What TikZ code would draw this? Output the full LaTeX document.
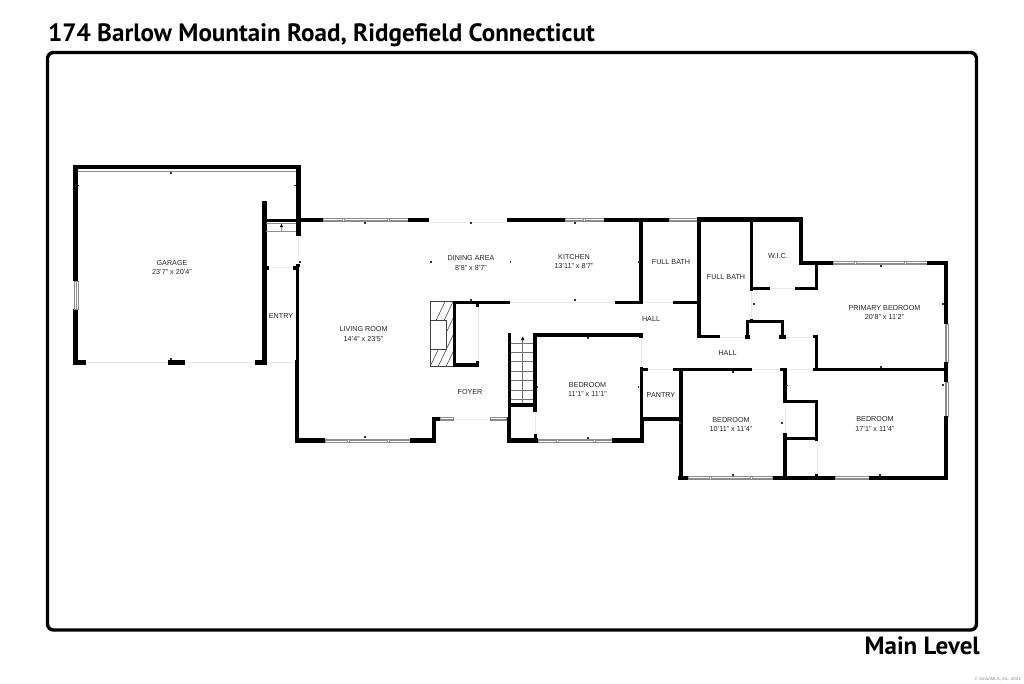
\documentclass[tikz,border=0pt]{standalone}
\usepackage{fontspec}
\setmainfont{Liberation Sans}
\newfontfamily\titlefont{PT Sans}
\definecolor{lbl}{gray}{0.15}
\definecolor{wingray}{gray}{0.55}
\definecolor{doorgray}{gray}{0.91}
\newcommand{\WW}[4]{\fill[wallfill] (#1,#2) rectangle (#3,#4);}
\newcommand{\HW}[4]{% horizontal window: x1 x2 y1 y2
  \draw[winframe] (#1,#3) rectangle (#2,#4);
  \draw[winframe] (#1,{(#3+#4)/2}) -- (#2,{(#3+#4)/2});}
\newcommand{\VW}[4]{% vertical window: x1 x2 y1 y2
  \draw[winframe] (#1,#3) rectangle (#2,#4);
  \draw[winframe] ({(#1+#2)/2},#3) -- ({(#1+#2)/2},#4);}
\newcommand{\MU}[3]{\draw[winframe] (#1-1,#2) rectangle (#1+1,#3);}
\newcommand{\DR}[4]{\draw[doorline] (#1,#2) -- (#3,#4);}
\tikzset{
  wallfill/.style={fill=black},
  winframe/.style={draw=wingray,line width=0.5pt,fill=white},
  doorline/.style={draw=doorgray,line width=1pt},
  roomlabel/.style={font=\fontsize{7.2}{9.2}\selectfont,text=lbl,align=center,inner sep=0pt},
  tick/.style={fill=black!80},
  treadline/.style={draw=black!55,line width=0.5pt},
  hatchline/.style={draw=black!75,line width=0.55pt},
}
\begin{document}
\begin{tikzpicture}[x=1pt,y=-1pt]
\useasboundingbox (0,0) rectangle (1024,683);
\fill[white] (0,0) rectangle (1024,683);
% frame
\draw[line width=3.4pt,rounded corners=6pt] (47.5,52.5) rectangle (976.5,630);
\node[anchor=base west,inner sep=0pt,font=\titlefont\bfseries\fontsize{25.1}{28}\selectfont] (title) at (48,41) {174 Barlow Mountain Road, Ridgefield Connecticut};
\node[anchor=base east,inner sep=0pt,font=\titlefont\bfseries\fontsize{25}{28}\selectfont] (level) at (980,654) {Main Level};
\node[anchor=base east,inner sep=0pt,text=black!45,font=\fontsize{4.4}{5}\selectfont] (copy) at (1021,680) {© SmartMLS, Inc. 2024};

% door openings (faint)
\DR{86}{362.5}{168}{362.5}
\DR{185}{362.5}{255}{362.5}
\DR{267}{362.5}{294}{362.5}
\DR{298}{236}{298}{265}
\DR{270}{267}{294}{267}
\DR{429}{222}{507}{222}
\DR{510}{302.5}{615}{302.5}
\DR{643}{302.5}{673}{302.5}
\DR{478}{305}{478}{362}
\DR{641}{338}{641}{367}
\DR{648}{369.5}{673}{369.5}
\DR{720}{337}{745}{337}
\DR{786}{337}{813}{337}
\DR{751}{291}{751}{318}
\DR{770}{288.5}{795}{288.5}
\DR{752}{369.5}{780}{369.5}
\DR{787}{369.5}{813}{369.5}
\DR{785}{403}{785}{433}
\DR{817}{441}{817}{473}
\DR{535}{412}{535}{434}
\DR{453}{419}{490}{419}

% garage
\WW{73.3}{164.7}{300.7}{169.3}
\WW{73.3}{164.7}{78}{281}
\WW{73.3}{309}{78}{365}
\WW{296}{164.7}{300.7}{236}
\WW{73.3}{360}{86}{365}
\WW{168}{360}{185}{365}
\WW{254.7}{360}{266.7}{365}
\WW{262}{200.7}{266.7}{365}
\VW{74.3}{78}{281}{309}
\draw[wingray,line width=0.5pt] (78,171.5) -- (296,171.5);
% entry
\WW{266}{218.5}{300}{222.2}
\draw[wingray,line width=0.5pt] (266,223) -- (296,223);
\draw[wingray,line width=0.5pt] (266,231) -- (296,231);
\draw[wingray,line width=0.4pt] (281.5,224) -- (281.5,231);
\fill[black] (279.8,227) -- (283.2,227) -- (281.5,224) -- cycle;
\WW{267}{266}{268.5}{270}
\WW{293}{266}{296}{270}
\WW{295.5}{263.5}{299.5}{267}
\WW{295.5}{265}{299.2}{360}
\WW{294.7}{360}{299.2}{443}
% top wall of house
\WW{296}{217.7}{323}{222.3}
\HW{323}{408}{218.3}{221.7}
\MU{343}{218.3}{221.7}\MU{388.5}{218.3}{221.7}
\WW{408}{217.7}{429}{222.3}
\WW{507}{217.7}{565}{222.3}
\HW{565}{604}{218.3}{221.7}
\MU{584.5}{218.3}{221.7}
\WW{604}{217.7}{669.5}{222.3}
\HW{669.5}{697}{218.3}{221.7}
\WW{697}{217.3}{803.3}{222.3}
% living bottom
\WW{294.7}{438.3}{325}{443}
\HW{325}{410}{439}{442.3}
\MU{348}{439}{442.3}\MU{388}{439}{442.3}
\WW{410}{438.3}{435.7}{443}
\WW{431.7}{416.7}{435.7}{443}
\WW{431.7}{416.7}{440}{421}
\HW{440}{453.3}{417}{420.6}
\HW{490}{506.5}{417}{420.6}
% fireplace
\begin{scope}
\clip (430.7,301.7) rectangle (453,366.7);
\foreach \k in {0,...,11}{
  \draw[hatchline] ({414+8*\k},{366.7}) -- ({414+8*\k+31},{301.7});
}
\end{scope}
\draw[hatchline] (430.7,301.7) rectangle (453,366.7);
\draw[hatchline,fill=white] (430.7,320.7) rectangle (446,349);
\WW{452.7}{301}{455.7}{367}
\WW{452.7}{301}{510}{304.3}
\WW{452.7}{362.7}{479}{366.7}
\WW{476}{304}{479}{306.5}
\WW{476}{361}{479}{366.7}
% kitchen / bath walls
\WW{615}{301}{643}{304.3}
\WW{673}{301}{698}{304.3}
\WW{639.3}{222}{642.7}{304}
\WW{697.3}{218}{700.7}{338.3}
\WW{697.3}{335.3}{720}{338.3}
% closet
\WW{745.7}{320}{749}{338}
\WW{745}{335.3}{750}{338.5}
\WW{745.7}{320}{784}{323.3}
\WW{780.7}{320}{784}{338}
\WW{779}{335.3}{786}{338.5}
\WW{750}{318.5}{752.5}{323}
\WW{750}{222}{753.3}{291}
% wic
\WW{750}{286.7}{770}{290}
\WW{795}{286.7}{818}{290}
\WW{799.3}{217.3}{803.3}{265}
\WW{799.3}{260.7}{833}{265}
\WW{815}{261}{818}{290}
\HW{833}{927}{261.3}{264.6}
\MU{855}{261.3}{264.6}\MU{905}{261.3}{264.6}
\WW{927}{260.7}{948.3}{265}
\WW{944.3}{261}{948.3}{324.3}
\VW{945}{948}{324.3}{362}
\WW{944.3}{362}{948.3}{382}
\VW{945}{948}{382}{416}
\WW{944.3}{416}{948.3}{480}
% hall / primary
\WW{813.3}{335}{818}{338}
\WW{815}{335}{818}{371}
\WW{813}{368}{948}{371.3}
\WW{673}{368.3}{751.5}{371.3}
\WW{780}{368}{786.7}{371.3}
% pantry
\WW{640}{367}{642.7}{420}
\WW{640}{368}{648.3}{371}
\WW{679.3}{368.3}{682.7}{480}
\WW{640}{416.7}{682}{420.7}
\WW{640}{416.7}{644}{442.7}
% bedroom 1
\WW{533.3}{333.3}{642.7}{337}
\WW{533.3}{333.3}{537.3}{412}
\WW{534}{434.3}{537.3}{442}
\WW{639.3}{333.3}{642.7}{337.5}
\WW{506.7}{438.3}{538}{442.7}
\HW{538}{612.3}{439}{442.2}
\MU{557}{439}{442.2}\MU{594}{439}{442.2}
\WW{612}{438.3}{644}{442.7}
% stairs
\WW{508.3}{333.3}{511.3}{417}
\WW{506.7}{417}{511.3}{442.7}
\WW{508.3}{403.3}{537}{406.7}
\foreach \yy in {343.3,352.7,361.7,371,380.7,390,399}{
  \draw[treadline] (511.3,\yy) -- (533.3,\yy);
}
\draw[treadline] (522.7,340) -- (522.7,403.3);
\fill[black] (521,340) -- (524.4,340) -- (522.7,336.5) -- cycle;
% bedrooms bottom
\WW{677.7}{476}{688.3}{480}
\HW{688.3}{772.7}{476.6}{479.6}
\MU{710}{476.6}{479.6}\MU{751.5}{476.6}{479.6}
\WW{772.7}{476}{835}{480}
\HW{835}{869}{476.6}{479.6}
\WW{869}{476}{948.3}{480}
% bedroom 2 niche
\WW{782.7}{368}{786.7}{403.3}
\WW{784}{400}{818.3}{403.3}
\WW{815}{400}{818.3}{440.7}
\WW{784}{436.7}{818}{440}
\WW{782.7}{433.3}{786.7}{476}
\WW{815}{473.5}{818.3}{477}

% small ticks
\foreach \tx/\ty in {171/173,78.5/185.7,295/185.7,171/359,300/262,
  365/223,471/223,365/437,471/300,431/262,510.5/262,
  575/223,575/300,639/262,588/338,537.5/387,638.5/387,588/438,
  680/423,754/304,880.7/266,943/304,880.7/367,
  732.7/372,782/423,786.7/385.7,732.7/475,880/475,943/385}{
  \fill[tick] (\tx-0.8,\ty-0.7) rectangle (\tx+0.8,\ty+0.7);
}
% labels
\node[roomlabel] (garage) at (172,267.5) {GARAGE\\23'7" x 20'4"};
\node[roomlabel] (entry) at (281,316) {ENTRY};
\node[roomlabel] (living) at (363.5,334) {LIVING ROOM\\14'4" x 23'5"};
\node[roomlabel] (dining) at (471,263) {DINING AREA\\8'8" x 8'7"};
\node[roomlabel] (kitchen) at (574,261.5) {KITCHEN\\13'11" x 8'7"};
\node[roomlabel] (fullbatha) at (671,262) {FULL BATH};
\node[roomlabel] (fullbathb) at (726,277.5) {FULL BATH};
\node[roomlabel] (wic) at (778,256.5) {W.I.C.};
\node[roomlabel] (primary) at (884.5,312.5) {PRIMARY BEDROOM\\20'8" x 11'2"};
\node[roomlabel] (hallupper) at (651,319.5) {HALL};
\node[roomlabel] (halllower) at (727.5,353) {HALL};
\node[roomlabel] (foyer) at (470,392.5) {FOYER};
\node[roomlabel] (bedrooma) at (587.5,389.5) {BEDROOM\\11'1" x 11'1"};
\node[roomlabel] (pantry) at (661,395) {PANTRY};
\node[roomlabel] (bedroomb) at (731,424.5) {BEDROOM\\10'11" x 11'4"};
\node[roomlabel] (bedroomc) at (875,424) {BEDROOM\\17'1" x 11'4"};
\end{tikzpicture}
\end{document}
